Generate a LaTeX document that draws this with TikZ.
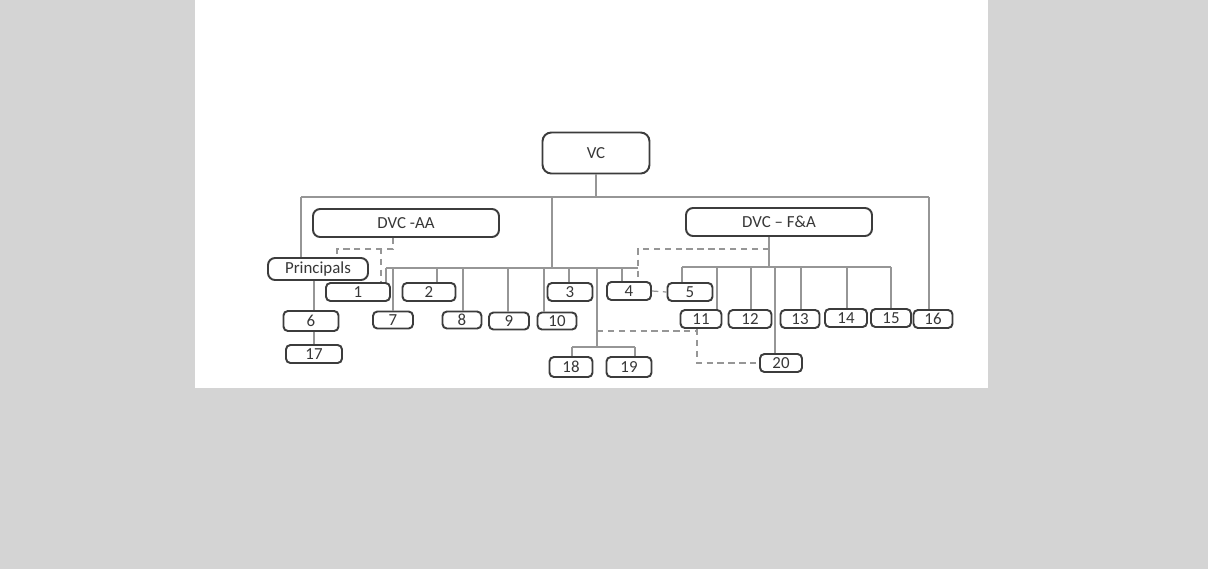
\documentclass[tikz,border=0pt]{standalone}
\usepackage{fontspec}
\setmainfont{Carlito}
\usepackage{tikz}
\definecolor{pagegray}{RGB}{212, 212, 212}
\definecolor{boxgray}{RGB}{60, 60, 60}
\definecolor{linkgray}{RGB}{150, 150, 150}
\definecolor{textgray}{RGB}{55, 55, 55}

\begin{document}
\begin{tikzpicture}[x=0.02cm, y=-0.02cm,
	unit/.style={draw=boxgray, fill=white, line width=1.1pt, rounded corners=2.5pt, inner sep=0pt,
		text=textgray, font=\fontsize{9.6}{11}\selectfont, minimum height=0.36cm},
	link/.style={draw=linkgray, line width=0.7pt},
	dlink/.style={link, dashed, dash pattern=on 3.6pt off 2.6pt}]

			% FOND
			\fill[pagegray] (0, 0) rectangle (1208, 569);
			\fill[white] (195, 0) rectangle (988, 388);

			% VC ET DVC
			\node[unit, minimum width=2.14cm, minimum height=0.82cm, rounded corners=5pt] (vc) at (596, 153) {VC};
			\node[unit, minimum width=3.72cm, minimum height=0.56cm, rounded corners=4pt] (dvcaa) at (406, 223) {DVC -AA};
			\node[unit, minimum width=3.72cm, minimum height=0.56cm, rounded corners=4pt] (dvcfa) at (779, 222) {DVC -- F\&A};
			\node[unit, minimum width=2.0cm, minimum height=0.44cm, rounded corners=4pt] (princ) at (318, 269) {Principals};

			% UNITES
			\node[unit, minimum width=1.28cm] (n1) at (358, 292) {1};
			\node[unit, minimum width=1.06cm] (n2) at (429, 292) {2};
			\node[unit, minimum width=0.90cm] (n3) at (570, 292) {3};
			\node[unit, minimum width=0.88cm] (n4) at (629, 291) {4};
			\node[unit, minimum width=0.90cm] (n5) at (690, 292) {5};
			\node[unit, minimum width=1.10cm, minimum height=0.40cm] (n6) at (311, 321) {6};
			\node[unit, minimum width=0.80cm, minimum height=0.34cm] (n7) at (393, 320) {7};
			\node[unit, minimum width=0.78cm, minimum height=0.34cm] (n8) at (462, 320) {8};
			\node[unit, minimum width=0.80cm, minimum height=0.34cm] (n9) at (509, 321) {9};
			\node[unit, minimum width=0.78cm, minimum height=0.34cm] (n10) at (557, 321) {10};
			\node[unit, minimum width=0.82cm] (n11) at (701, 319) {11};
			\node[unit, minimum width=0.86cm] (n12) at (750, 319) {12};
			\node[unit, minimum width=0.78cm] (n13) at (800, 319) {13};
			\node[unit, minimum width=0.84cm] (n14) at (846, 318) {14};
			\node[unit, minimum width=0.80cm] (n15) at (891, 318) {15};
			\node[unit, minimum width=0.78cm] (n16) at (933, 319) {16};
			\node[unit, minimum width=1.12cm] (n17) at (314, 354) {17};
			\node[unit, minimum width=0.86cm, minimum height=0.40cm] (n18) at (571, 367) {18};
			\node[unit, minimum width=0.90cm, minimum height=0.40cm] (n19) at (629, 367) {19};
			\node[unit, minimum width=0.84cm] (n20) at (781, 363) {20};

			% BUS DU HAUT
			\coordinate (topL) at (301, 197);
			\coordinate (topR) at (929, 197);
			\coordinate (topM) at (552, 197);
			\draw[link] (vc) -- (vc |- topL);
			\draw[link] (topL) -- (topR);
			\draw[link] (topL) -- (topL |- princ.north);
			\draw[link] (topR) -- (topR |- n16.north);

			% BUS DU MILIEU
			\coordinate (midL) at (386, 268);
			\coordinate (midR) at (638, 268);
			\coordinate (midM) at (597, 268);
			\draw[link] (topM) -- (topM |- midL);
			\draw[link] (midL) -- (midR);
			\foreach \x/\n in {386/n1, 393/n7, 437/n2, 463/n8, 508/n9, 544/n10, 569/n3, 622/n4}
				\draw[link] (\x, 268) -- (\x, 268 |- \n.north);

			% 18 ET 19
			\coordinate (lowL) at (572, 347);
			\coordinate (lowR) at (635, 347);
			\draw[link] (midM) -- (midM |- lowL);
			\draw[link] (lowL) -- (lowR);
			\draw[link] (lowL) -- (lowL |- n18.north);
			\draw[link] (lowR) -- (lowR |- n19.north);

			% BUS DVC - F&A
			\coordinate (rgtL) at (682, 267);
			\coordinate (rgtR) at (891, 267);
			\draw[link] (dvcfa.south -| 769, 0) -- (769, 267);
			\draw[link] (rgtL) -- (rgtR);
			\foreach \x/\n in {682/n5, 717/n11, 751/n12, 775/n20, 801/n13, 847/n14, 891/n15}
				\draw[link] (\x, 267) -- (\x, 267 |- \n.north);

			% PRINCIPALS
			\draw[link] (princ.south -| n17) -- (n6.north -| n17);
			\draw[link] (n6.south -| n17) -- (n17.north);

			% POINTILLES
			\draw[dlink] (dvcaa.south -| 393, 0) |- (337, 249) -- (337, 249 |- princ.north);
			\draw[dlink] (393, 249) -| (381, 249 |- n1.north);
			\draw[dlink] (769, 249) -| (midR |- n4.north);
			\draw[dlink] (n4.east) -- (n5.west);
			\draw[dlink] (597, 331) -- (697, 331);
			\draw[dlink] (n11.south -| 697, 0) |- (n20.west);

\end{tikzpicture}
\end{document}
